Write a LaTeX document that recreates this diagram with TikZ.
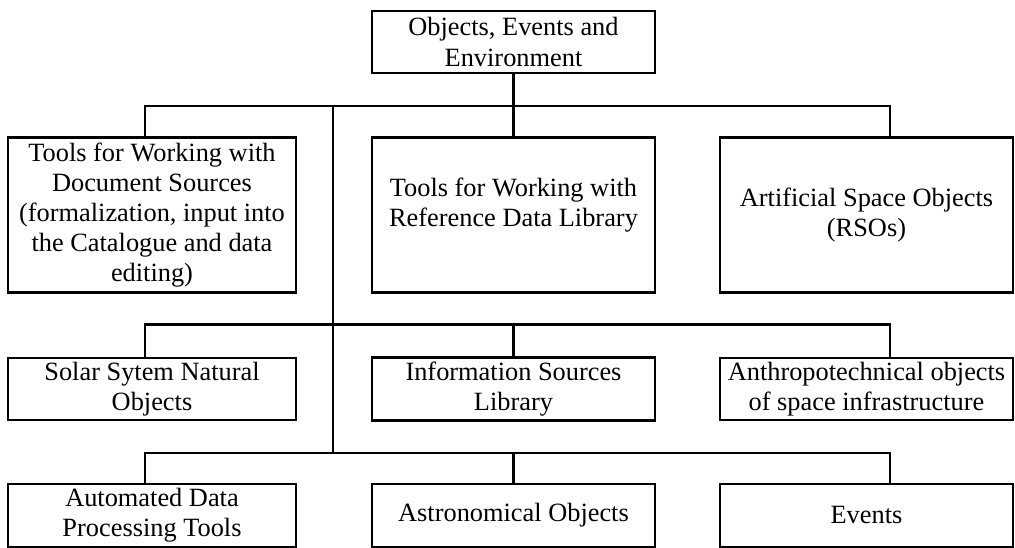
\documentclass[tikz,border=0pt]{standalone}
\usepackage{fontspec}
\setmainfont{Liberation Serif}
\usetikzlibrary{positioning, calc}

\begin{document}
\begin{tikzpicture}[
  box/.style={draw, line width=1pt, align=center, inner sep=2pt,
              font=\fontsize{12}{13.7}\selectfont},
  tall/.style={box, minimum height=2.48cm},
  flat/.style={box, minimum height=1.0cm},
  txt/.style={align=center, font=\fontsize{12}{13.7}\selectfont},
  link/.style={line width=1pt}
]
  \useasboundingbox (0,0) rectangle (16.24,-8.768);

  \node[box, minimum width=4.528cm, minimum height=0.992cm] (root) at (8.216,-0.672)
    {Objects, Events and\\Environment};

  % first row
  \node[tall, minimum width=4.608cm] (docs) at (2.432,-3.44)
    {Tools for Working with\\Document Sources\\(formalization, input into\\the Catalogue and data\\editing)};
  \node[tall, minimum width=4.528cm,
        label={[txt, yshift=0.16cm]center:{Tools for Working with\\Reference Data Library}}]
    (refs) at (8.216,-3.44) {};
  \node[tall, minimum width=4.688cm] (rso) at (13.864,-3.44)
    {Artificial Space Objects\\(RSOs)};

  % second row
  \node[flat, minimum width=4.608cm] (solar) at (2.432,-6.224)
    {Solar Sytem Natural\\Objects};
  \node[flat, minimum width=4.528cm] (info) at (8.216,-6.224)
    {Information Sources\\Library};
  \node[flat, minimum width=4.688cm] (anthro) at (13.864,-6.224)
    {Anthropotechnical objects\\of space infrastructure};

  % third row
  \node[flat, minimum width=4.608cm] (auto) at (2.432,-8.248)
    {Automated Data\\Processing Tools};
  \node[flat, minimum width=4.528cm] (astro) at (8.216,-8.248)
    {Astronomical Objects};
  \node[flat, minimum width=4.688cm] (events) at (13.864,-8.248)
    {Events};

  % buses
  \coordinate (bus1w) at (2.32,-1.696);
  \coordinate (bus1e) at (14.24,-1.696);
  \coordinate (bus2w) at (2.32,-5.192);
  \coordinate (bus2e) at (14.24,-5.192);
  \coordinate (bus3w) at (2.32,-7.248);
  \coordinate (bus3e) at (14.24,-7.248);
  \coordinate (trunk) at (5.328,-1.696);

  \draw[link] (root.south) -- (root.south |- bus1w);
  \draw[link] (docs.north -| bus1w) -- (bus1w) -- (bus1e) -- (rso.north -| bus1e);
  \draw[link] (refs.north |- bus1w) -- (refs.north);
  \draw[link] (trunk) -- (trunk |- bus3w);

  \draw[link] (solar.north -| bus2w) -- (bus2w) -- (bus2e) -- (anthro.north -| bus2e);
  \draw[link] (info.north |- bus2w) -- (info.north);

  \draw[link] (auto.north -| bus3w) -- (bus3w) -- (bus3e) -- (events.north -| bus3e);
  \draw[link] (astro.north |- bus3w) -- (astro.north);
\end{tikzpicture}
\end{document}
